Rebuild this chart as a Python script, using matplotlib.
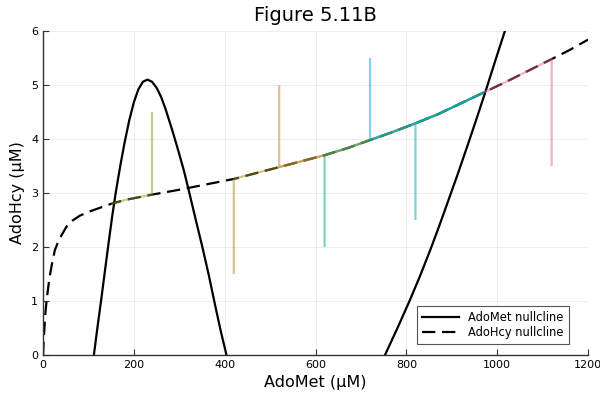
import matplotlib
matplotlib.use("Agg")
import matplotlib.pyplot as plt

# AdoMet nullcline, two branches (AdoMet uM, AdoHcy uM)
met_left_x = [112, 120, 129, 137, 144, 152, 160, 170, 180, 190, 200, 210, 220, 230, 240, 250, 260, 270, 285, 298, 310, 320, 335, 350, 365, 380, 392, 404]
met_left_y = [0.0, 0.52, 1.08, 1.6, 2.05, 2.55, 3.0, 3.5, 3.95, 4.35, 4.68, 4.92, 5.06, 5.1, 5.06, 4.95, 4.78, 4.55, 4.15, 3.78, 3.42, 3.08, 2.55, 2.03, 1.48, 0.88, 0.42, 0.0]
met_right_x = [753, 780, 808, 830, 852, 872, 892, 914, 936, 956, 977, 997, 1017]
met_right_y = [0.0, 0.49, 1.02, 1.46, 1.93, 2.38, 2.85, 3.37, 3.91, 4.41, 4.95, 5.48, 6.0]

# AdoHcy nullcline
hcy_x = [0, 2, 5, 8, 14, 20, 26, 35, 45, 52, 65, 81, 100, 120, 133, 150, 180, 210, 240, 300, 360, 420, 470, 520, 570, 620, 670, 720, 770, 820, 870, 920, 970, 1020, 1070, 1120, 1160, 1200]
hcy_y = [0.0, 0.35, 0.75, 1.02, 1.42, 1.7, 1.94, 2.13, 2.28, 2.38, 2.49, 2.58, 2.65, 2.71, 2.75, 2.8, 2.87, 2.92, 2.97, 3.06, 3.16, 3.26, 3.37, 3.48, 3.59, 3.7, 3.83, 3.98, 4.13, 4.29, 4.46, 4.66, 4.86, 5.06, 5.27, 5.48, 5.65, 5.84]

# trajectories: start point and where they end on the AdoHcy nullcline
traj_x0 = [240, 420, 520, 620, 720, 820, 1120]
traj_y0 = [4.5, 1.5, 5.0, 2.0, 5.5, 2.5, 3.5]
traj_end = [150, 970, 970, 970, 970, 970, 970]
traj_colors = ["#8E971D", "#AC8E18", "#C68225", "#00A98D", "#00A9CD", "#00A9AD", "#ED5E93"]

plt.rcParams["font.family"] = ["DejaVu Sans"]

fig = plt.figure(figsize=(6, 4), dpi=100)
ax = fig.add_axes([0.0717, 0.1125, 0.9083, 0.81])

ax.plot(met_left_x, met_left_y, color="black", lw=1.6, label="AdoMet nullcline")
ax.plot(met_right_x, met_right_y, color="black", lw=1.6)
ax.plot(hcy_x, hcy_y, color="black", lw=1.6, ls=(0, (6, 3)), label="AdoHcy nullcline")

for x0, y0, xe, c in zip(traj_x0, traj_y0, traj_end, traj_colors):
    lo, hi = min(x0, xe), max(x0, xe)
    pts = [(x, y) for x, y in zip(hcy_x, hcy_y) if lo <= x <= hi]
    if xe < x0:
        pts = pts[::-1]
    xs = [x0] + [p[0] for p in pts]
    ys = [y0] + [p[1] for p in pts]
    ax.plot(xs, ys, color=c, lw=1.6, alpha=0.5, solid_capstyle="butt")

ax.set_xlim(0, 1200)
ax.set_ylim(0, 6)
ax.set_xticks([0, 200, 400, 600, 800, 1000, 1200])
ax.set_yticks([0, 1, 2, 3, 4, 5, 6])
ax.grid(True, color="black", alpha=0.08, lw=0.6)
ax.spines["top"].set_visible(False)
ax.spines["right"].set_visible(False)
for s in ("left", "bottom"):
    ax.spines[s].set_color("#333333")
    ax.spines[s].set_linewidth(1.0)
ax.tick_params(direction="in", length=4, labelsize=8, colors="#333333", labelcolor="black")

ax.set_title("Figure 5.11B", fontsize=14, pad=7)
ax.set_xlabel("AdoMet (μM)", fontsize=11.5)
ax.set_ylabel("AdoHcy (μM)", fontsize=11.5)

leg = ax.legend(loc="lower right", bbox_to_anchor=(0.976, 0.015), fontsize=8.3,
                fancybox=False, framealpha=1, edgecolor="#555555",
                handlelength=3.2, borderpad=0.45, labelspacing=0.2)
leg.get_frame().set_linewidth(0.8)

fig.savefig("out.png", dpi=100)
